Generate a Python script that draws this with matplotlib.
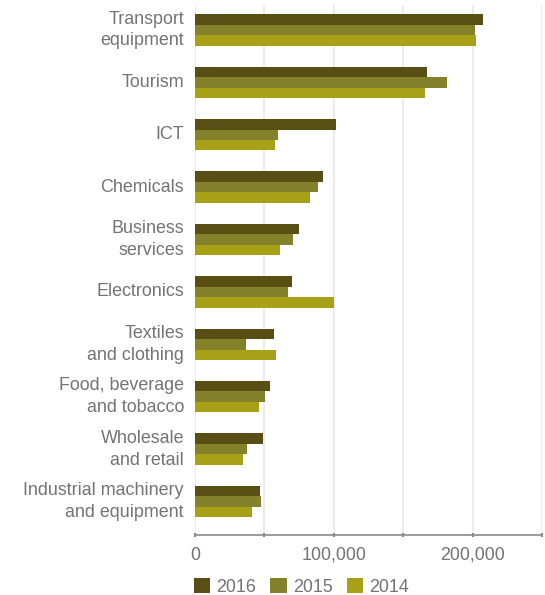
import matplotlib.pyplot as plt
import numpy as np
from matplotlib.patches import Patch

plt.rcParams['font.family'] = ['Liberation Sans', 'DejaVu Sans']

# Data (top to bottom)
categories = ['Transport\nequipment', 'Tourism', 'ICT', 'Chemicals',
              'Business\nservices', 'Electronics', 'Textiles\nand clothing',
              'Food, beverage\nand tobacco', 'Wholesale\nand retail',
              'Industrial machinery\nand equipment']
years = ['2016', '2015', '2014']
v2016 = [207300, 166900, 101400, 92000, 75200, 69700, 56700, 53800, 48800, 46600]
v2015 = [201500, 181300, 59600, 88400, 70400, 66800, 36500, 50200, 37200, 47300]
v2014 = [202200, 165500, 57400, 82600, 61000, 99900, 58100, 45900, 34300, 40800]
colors = ['#594e14', '#84812b', '#a8a016']

text_color = '#747474'

fig = plt.figure(figsize=(5.45, 5.95), dpi=100)
ax = fig.add_axes([0.358, 0.1008, 0.6365, 0.8908])

y = np.arange(len(categories))
h = 0.2
for i, (vals, c) in enumerate(zip([v2016, v2015, v2014], colors)):
    ax.barh(y + (i - 1) * h, vals, height=h, color=c, zorder=3)

ax.set_xlim(0, 250000)
ax.set_ylim(9.64, -0.477)

ax.set_xticks(np.arange(0, 250001, 50000))
ax.set_xticklabels(['0', '', '100,000', '', '200,000', ''])
ax.grid(axis='x', color='#ececec', linewidth=1.5, zorder=0)
ax.set_yticks(y)
ax.set_yticklabels(categories, linespacing=1.38, va='center')

for s in ['top', 'right', 'left']:
    ax.spines[s].set_visible(False)
ax.spines['bottom'].set_color('#8a8a8a')
ax.spines['bottom'].set_linewidth(1.2)
ax.tick_params(axis='y', length=0, pad=8, labelsize=12.9, labelcolor=text_color)
ax.tick_params(axis='x', direction='inout', length=3, width=1.5, color='#8a8a8a',
               pad=7, labelsize=12.9, labelcolor=text_color)

handles = [Patch(facecolor=c, label=lab) for c, lab in zip(colors, years)]
fig.legend(handles=handles, loc='center left', bbox_to_anchor=(0.356, 0.013),
           ncol=3, frameon=False, handlelength=0.9, handleheight=0.9,
           handletextpad=0.35, columnspacing=0.8, fontsize=12.9,
           labelcolor=text_color, borderpad=0, borderaxespad=0)

fig.savefig('out.png', dpi=100)
